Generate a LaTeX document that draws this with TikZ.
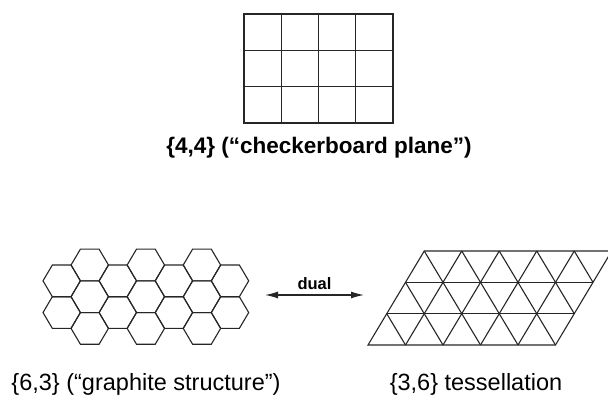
\documentclass[tikz,border=0pt]{standalone}
\usepackage{fontspec}
\setmainfont{Liberation Sans}
\usetikzlibrary{arrows.meta,positioning}
\tikzset{
  tiling/.style={draw=black!85, line width=1.1pt, line join=miter},
  caption/.style={inner sep=0pt, font=\fontsize{23.5}{28}\selectfont},
  boldcaption/.style={caption, font=\fontsize{22.5}{27}\selectfont\bfseries},
  duallabel/.style={above=5pt, inner sep=0pt, font=\fontsize{16.5}{19}\selectfont\bfseries},
  dualflow/.style={draw=black!85, line width=1.2pt,
    {Latex[length=13pt,width=7pt]}-{Latex[length=13pt,width=7pt]}}
}
\begin{document}
\begin{tikzpicture}[x=1pt, y=-1pt]
\useasboundingbox (0,0) rectangle (608,396);

% {4,4}
\draw[tiling] (244,14) rectangle (393,123);
\foreach \i in {1,2,3}
  \draw[tiling] ({244+37.25*\i},14) -- ({244+37.25*\i},123);
\foreach \j in {1,2}
  \draw[tiling] (244,{14+36.33*\j}) -- (393,{14+36.33*\j});
\node[boldcaption] (square) at (319,148) {\{4,4\} (“checkerboard plane”)};

% {6,3}
\foreach \i in {0,2,4,6}
  \foreach \yc in {280.85,312.55}
    \draw[tiling, shift={({61.7+28.05*\i},\yc)}]
      (-18.7,0) -- (-9.35,-15.85) -- (9.35,-15.85) -- (18.7,0)
      -- (9.35,15.85) -- (-9.35,15.85) -- cycle;
\foreach \i in {1,3,5}
  \foreach \yc in {265,296.7,328.4}
    \draw[tiling, shift={({61.7+28.05*\i},\yc)}]
      (-18.7,0) -- (-9.35,-15.85) -- (9.35,-15.85) -- (18.7,0)
      -- (9.35,15.85) -- (-9.35,15.85) -- cycle;
\node[caption] (graphite) at (146,384) {\{6,3\} (“graphite structure”)};

% {3,6}
\begin{scope}[shift={(368,345)}, x={(37.5pt,0pt)}, y={(18.75pt,31.33pt)}]
  \draw[tiling] (0,0) -- (5,0) -- (5,3) -- (0,3) -- cycle;
  \foreach \v in {1,2}
    \draw[tiling] (0,\v) -- (5,\v);
  \foreach \u in {1,...,4}
    \draw[tiling] (\u,0) -- (\u,3);
  \foreach \c in {1,...,7}
    \draw[tiling] ({\c-max(0,\c-5)},{max(0,\c-5)}) -- ({\c-min(3,\c)},{min(3,\c)});
\end{scope}
\node[caption] (tess) at (476,384) {\{3,6\} tessellation};

% duality
\coordinate (hexside) at (265,295);
\coordinate (triside) at (364,295);
\draw[dualflow] (hexside) -- node[duallabel] (dual) {dual} (triside);

\end{tikzpicture}
\end{document}
